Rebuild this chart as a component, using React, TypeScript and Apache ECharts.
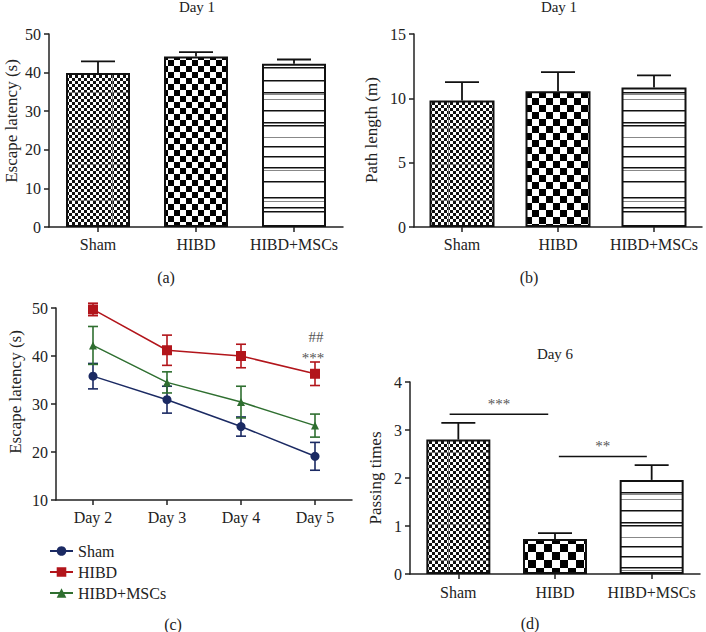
import React, { useEffect, useRef } from 'react';
import * as echarts from 'echarts';

const groups = ['Sham', 'HIBD', 'HIBD+MSCs'];
const days = ['Day 2', 'Day 3', 'Day 4', 'Day 5'];

// (a) Day 1 escape latency (s)
const day1Latency = [39.9, 44.2, 42.3];
const day1LatencySem = [3.0, 1.1, 1.1];
// (b) Day 1 path length (m)
const day1Path = [9.84, 10.55, 10.85];
const day1PathSem = [1.42, 1.48, 0.93];
// (d) Day 6 passing times
const day6Passing = [2.8, 0.73, 1.96];
const day6PassingSem = [0.35, 0.12, 0.31];

// (c) escape latency over days
const shamLatency = [35.8, 30.9, 25.3, 19.1];
const shamSem = [2.65, 2.8, 2.0, 2.9];
const hibdLatency = [49.7, 41.2, 40.0, 36.3];
const hibdSem = [1.3, 3.15, 2.45, 2.45];
const mscLatency = [42.2, 34.5, 30.4, 25.5];
const mscSem = [3.95, 2.2, 3.3, 2.4];

// (d) significance brackets: [fromIndex, toIndex, yValue]
const sigPairs = [
  [0, 1, 3.33],
  [1, 2, 2.45],
];
const sigLabels = ['***', '**'];

const FONT = '"Liberation Serif", "Times New Roman", serif';
const INK = '#222';
const COLORS = ['#1b2a63', '#b2151b', '#2f6f30'];

function fineChecker(): HTMLCanvasElement {
  const c = document.createElement('canvas');
  c.width = 48;
  c.height = 36;
  const g = c.getContext('2d')!;
  g.fillStyle = '#fff';
  g.fillRect(0, 0, 48, 36);
  g.fillStyle = '#111';
  for (let y = 0; y < 36; y += 3) {
    for (let x = 0; x < 48; x += 3) {
      if (((x / 3) + (y / 3)) % 2 === 0) g.fillRect(x, y, 3, 3);
    }
  }
  g.fillStyle = 'rgba(120,120,120,0.85)';
  g.fillRect(16, 0, 1, 36);
  g.fillRect(0, 20, 48, 1);
  return c;
}

function coarseChecker(s: number): HTMLCanvasElement {
  const c = document.createElement('canvas');
  c.width = 2 * s;
  c.height = 2 * s;
  const g = c.getContext('2d')!;
  g.fillStyle = '#fff';
  g.fillRect(0, 0, 2 * s, 2 * s);
  g.fillStyle = '#000';
  g.fillRect(0, 0, s, s);
  g.fillRect(s, s, s, s);
  return c;
}

function hLines(): HTMLCanvasElement {
  const c = document.createElement('canvas');
  c.width = 4;
  c.height = 200;
  const g = c.getContext('2d')!;
  g.fillStyle = '#fff';
  g.fillRect(0, 0, 4, 200);
  const dark = [7, 11, 67, 80, 92, 110, 122, 125, 146, 156, 167, 181, 197];
  const light = [1, 94, 99, 137, 170];
  g.fillStyle = '#111';
  dark.forEach((y) => g.fillRect(0, y, 4, 1.5));
  g.fillStyle = '#888';
  light.forEach((y) => g.fillRect(0, y, 4, 1));
  return c;
}

export default function App() {
  const ref = useRef<HTMLDivElement>(null);

  useEffect(() => {
    if (!ref.current) return;
    const chart = echarts.init(ref.current, undefined, { renderer: 'svg' });

    const fine = fineChecker();
    const pat = (img: HTMLCanvasElement) => ({ image: img, repeat: 'repeat' as const });
    const fineP = pat(fine);
    const stripes = pat(hLines());
    const coarseA = pat(coarseChecker(6));
    const coarseB = pat(coarseChecker(7));
    const coarseD = pat(coarseChecker(8));

    const axisLineStyle = { color: INK, width: 1.5 };
    const labelBase = { fontFamily: FONT, fontSize: 16, color: INK };

    const catAxis = (gridIndex: number, data: string[], margin: number) => ({
      type: 'category',
      gridIndex,
      data,
      axisLine: { show: true, lineStyle: axisLineStyle },
      axisTick: { show: true, alignWithLabel: true, interval: 0, length: 5, lineStyle: axisLineStyle },
      axisLabel: { ...labelBase, margin, interval: 0, hideOverlap: false },
      splitLine: { show: false },
    });
    const valAxis = (gridIndex: number, min: number, max: number, interval: number) => ({
      type: 'value',
      gridIndex,
      min,
      max,
      interval,
      axisLine: { show: true, lineStyle: axisLineStyle },
      axisTick: { show: true, length: 5, lineStyle: axisLineStyle },
      axisLabel: { ...labelBase, margin: 8 },
      splitLine: { show: false },
    });

    const barSeries = (
      name: string,
      idx: number,
      values: number[],
      fills: any[],
      width: number,
    ) => ({
      type: 'bar',
      name,
      xAxisIndex: idx,
      yAxisIndex: idx,
      barWidth: width,
      z: 2,
      data: values.map((v, i) => ({
        value: v,
        itemStyle: { color: fills[i], borderColor: '#111', borderWidth: 2 },
      })),
    });

    const barErr = (name: string, idx: number, values: number[], sems: number[], half: number) => ({
      type: 'custom',
      name,
      xAxisIndex: idx,
      yAxisIndex: idx,
      z: 3,
      encode: { x: 0, y: 1 },
      data: values.map((v, i) => [i, v, v + sems[i]]),
      renderItem: (_p: any, api: any) => {
        const i = api.value(0);
        const a = api.coord([i, api.value(1)]);
        const b = api.coord([i, api.value(2)]);
        const st = { stroke: '#111', lineWidth: 1.8 };
        return {
          type: 'group',
          children: [
            { type: 'line', shape: { x1: a[0], y1: a[1], x2: b[0], y2: b[1] }, style: st },
            { type: 'line', shape: { x1: b[0] - half, y1: b[1], x2: b[0] + half, y2: b[1] }, style: st },
          ],
        };
      },
    });

    const lineErr = (name: string, values: number[], sems: number[], color: string) => ({
      type: 'custom',
      name,
      xAxisIndex: 2,
      yAxisIndex: 2,
      z: 3,
      encode: { x: 0, y: 1 },
      data: values.map((v, i) => [i, v, sems[i]]),
      renderItem: (_p: any, api: any) => {
        const i = api.value(0);
        const m = api.value(1);
        const s = api.value(2);
        const t = api.coord([i, m + s]);
        const b = api.coord([i, m - s]);
        const hw = 5;
        const st = { stroke: color, lineWidth: 1.6 };
        return {
          type: 'group',
          children: [
            { type: 'line', shape: { x1: t[0], y1: t[1], x2: b[0], y2: b[1] }, style: st },
            { type: 'line', shape: { x1: t[0] - hw, y1: t[1], x2: t[0] + hw, y2: t[1] }, style: st },
            { type: 'line', shape: { x1: b[0] - hw, y1: b[1], x2: b[0] + hw, y2: b[1] }, style: st },
          ],
        };
      },
    });

    const lineSeries = (name: string, values: number[], color: string, symbol: string, size: number) => ({
      type: 'line',
      name,
      xAxisIndex: 2,
      yAxisIndex: 2,
      z: 4,
      data: values,
      symbol,
      symbolSize: size,
      showSymbol: true,
      itemStyle: { color },
      lineStyle: { color, width: 1.5 },
    });

    const sigSeries = {
      type: 'custom',
      name: 'sig',
      xAxisIndex: 3,
      yAxisIndex: 3,
      z: 5,
      encode: { x: 0, y: 2 },
      data: sigPairs.map((p, k) => [p[0], p[1], p[2], k]),
      renderItem: (_p: any, api: any) => {
        const k = api.value(3);
        const band = api.size([1, 0])[0];
        const a = api.coord([api.value(0), api.value(2)]);
        const b = api.coord([api.value(1), api.value(2)]);
        const x1 = a[0] + (k === 0 ? -0.09 : 0.04) * band;
        const x2 = b[0] + (k === 0 ? -0.07 : -0.05) * band;
        return {
          type: 'group',
          children: [
            { type: 'line', shape: { x1, y1: a[1], x2, y2: a[1] }, style: { stroke: '#111', lineWidth: 1.5 } },
            {
              type: 'text',
              x: (x1 + x2) / 2,
              y: a[1] - 3,
              style: {
                text: sigLabels[k],
                fontFamily: FONT,
                fontSize: 15,
                fill: '#555',
                align: 'center',
                verticalAlign: 'bottom',
              },
            },
          ],
        };
      },
    };

    const txt = (text: string, x: number, y: number, size: number, rot = 0, fill = INK) => ({
      type: 'text',
      x,
      y,
      rotation: rot,
      style: {
        text,
        fontFamily: FONT,
        fontSize: size,
        fill,
        align: 'center',
        verticalAlign: 'middle',
      },
    });

    chart.setOption({
      animation: false,
      backgroundColor: '#fff',
      grid: [
        { left: 49, top: 34, width: 294, height: 193 },
        { left: 414, top: 34, width: 288, height: 193 },
        { left: 56, top: 308, width: 296, height: 192 },
        { left: 410, top: 382, width: 290, height: 192 },
      ],
      xAxis: [
        catAxis(0, groups, 9),
        catAxis(1, groups, 9),
        catAxis(2, days, 9),
        catAxis(3, groups, 10),
      ],
      yAxis: [
        valAxis(0, 0, 50, 10),
        valAxis(1, 0, 15, 5),
        valAxis(2, 10, 50, 10),
        valAxis(3, 0, 4, 1),
      ],
      legend: {
        data: groups,
        orient: 'vertical',
        left: 44,
        top: 538,
        itemWidth: 23,
        itemHeight: 12,
        itemGap: 5,
        textStyle: { fontFamily: FONT, fontSize: 16, color: INK, lineHeight: 16 },
      },
      series: [
        barSeries('Day 1 latency', 0, day1Latency, [fineP, coarseA, stripes], 64),
        barErr('Day 1 latency err', 0, day1Latency, day1LatencySem, 17),
        barSeries('Day 1 path', 1, day1Path, [fineP, coarseB, stripes], 65),
        barErr('Day 1 path err', 1, day1Path, day1PathSem, 17),
        lineErr('Sham err', shamLatency, shamSem, COLORS[0]),
        lineErr('HIBD err', hibdLatency, hibdSem, COLORS[1]),
        lineErr('HIBD+MSCs err', mscLatency, mscSem, COLORS[2]),
        lineSeries('Sham', shamLatency, COLORS[0], 'circle', 9),
        lineSeries('HIBD', hibdLatency, COLORS[1], 'rect', 10),
        lineSeries('HIBD+MSCs', mscLatency, COLORS[2], 'triangle', 8),
        barSeries('Day 6 passing', 3, day6Passing, [fineP, coarseD, stripes], 64),
        barErr('Day 6 passing err', 3, day6Passing, day6PassingSem, 17),
        sigSeries,
      ],
      graphic: [
        txt('Day 1', 197, 7, 15),
        txt('Day 1', 559, 7, 15),
        txt('Day 6', 555, 354, 15),
        txt('(a)', 166, 277, 16),
        txt('(b)', 529, 277, 16),
        txt('(c)', 173, 624, 16),
        txt('(d)', 530, 623, 16),
        txt('Escape latency (s)', 11, 121, 17, Math.PI / 2),
        txt('Path length (m)', 371, 130, 17, Math.PI / 2),
        txt('Escape latency (s)', 15, 392, 17, Math.PI / 2),
        txt('Passing times', 375, 478, 17, Math.PI / 2),
        txt('##', 316, 337, 15, 0, '#555'),
        txt('***', 313, 358, 15, 0, '#555'),
      ],
    });

    return () => chart.dispose();
  }, []);

  return (
    <div
      ref={ref}
      style={{ position: 'fixed', left: 0, top: 0, width: 706, height: 632, background: '#fff' }}
    />
  );
}
